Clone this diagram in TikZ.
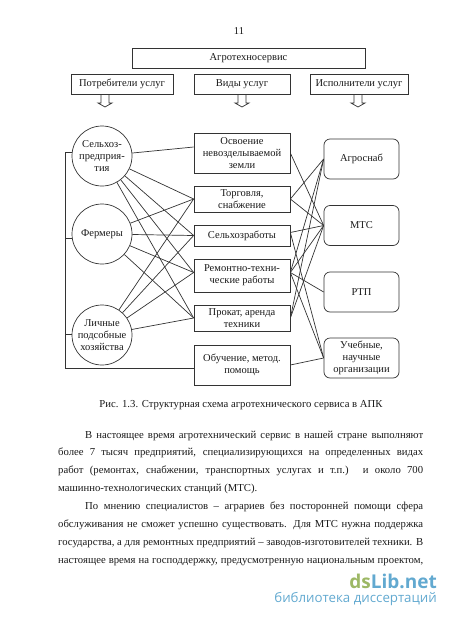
\documentclass[tikz,border=0pt]{standalone}
\usepackage{fontspec}
\setmainfont{Liberation Serif}
\newfontfamily\wmfont{Open Sans}
\definecolor{wmgreen}{HTML}{9DB865}
\definecolor{wmblue}{HTML}{62A9D0}
\tikzset{
    every node/.style={font=\fontsize{10.5}{12}\selectfont,text=black!90},
    lnk/.style={draw=black!80,line width=0.7pt},
    sqbox/.style={lnk,rectangle,inner sep=0pt,align=center},
    rdbox/.style={sqbox,rounded corners=6pt,minimum width=75pt,minimum height=40pt},
    midbox/.style={sqbox,minimum width=96pt},
    crc/.style={lnk,circle,minimum size=60pt,inner sep=0pt,align=center}
}
\begin{document}
\begin{tikzpicture}[x=1pt,y=-1pt]
    \useasboundingbox (0,0) rectangle (450,619);
    \node(page)at(239,31){11};
    \node[sqbox,minimum width=233pt,minimum height=20pt](top)at(248.5,58){Агротехносервис};
    \node[sqbox,minimum width=102pt,minimum height=20pt](potr)at(122,84){Потребители услуг};
    \node[midbox,minimum height=20pt](vidy)at(242,84){Виды услуг};
    \node[sqbox,minimum width=98pt,minimum height=20pt](ispl)at(359,84){Исполнители услуг};
    \foreach \n/\x in {potr/105,vidy/242,ispl/358} \draw[lnk] (\x-4,94)--++(0,9)--++(-3,0)--++(7,4)--++(7,-4)--++(-3,0)--++(0,-9);
    \node[crc](sel)at(102,156){Сельхоз-\\предприя-\\тия};
    \node[crc](fer)at(102,234){Фермеры};
    \node[crc](lich)at(102,335){Личные\\подсобные\\хозяйства};
    \node[midbox,minimum height=40pt](osv)at(242,153){Освоение\\невозделываемой\\земли};
    \node[midbox,minimum height=26pt](torg)at(242,199){Торговля,\\снабжение};
    \node[midbox,minimum height=21pt](selr)at(242,235.5){Сельхозработы};
    \node[midbox,minimum height=33pt](rem)at(242,275.5){Ремонтно-техни-\\ческие работы};
    \node[midbox,minimum height=26pt](prok)at(242,318){Прокат, аренда\\техники};
    \node[midbox,minimum height=40pt](obuch)at(242,365){Обучение, метод.\\помощь};
    \node[rdbox](agro)at(361.5,159){Агроснаб};
    \node[rdbox](mts)at(361.5,225.5){МТС};
    \node[rdbox](rtp)at(361.5,292){РТП};
    \node[rdbox](ucheb)at(361.5,358){Учебные,\\научные\\организации};
    \coordinate(osvin)at([yshift=6pt]osv.west);
    \coordinate(remin)at([yshift=3pt]rem.west);
    \coordinate(remout)at([yshift=3pt]rem.east);
    \coordinate(selout)at([yshift=3pt]selr.east);
    \coordinate(bus)at(65,368);
    \foreach \a/\b in {sel/osvin,sel/torg.west,sel/selr.west,sel/remin,sel/prok.west,
        fer/torg.west,fer/selr.west,fer/remin,fer/prok.west,
        lich/torg.west,lich/selr.west,lich/remin,lich/prok.west,
        osv.east/mts.west,torg.east/agro.west,torg.east/mts.west,selout/mts.west,selout/ucheb.west,
        remout/agro.west,remout/mts.west,remout/rtp.west,remout/ucheb.west,
        prok.east/agro.west,prok.east/mts.west,obuch.east/ucheb.west} \draw[lnk] (\a)--(\b);
    \draw[lnk](sel.174)-|(bus)--([yshift=-3pt]obuch.west);
    \draw[lnk](fer.188)--(fer.188-|bus);
    \draw[lnk](lich.178)--(lich.178-|bus);
    \node[font=\fontsize{10.7}{12}\selectfont](capt)at(241,405){Рис. 1.3. Структурная схема агротехнического сервиса в АПК};
    \node[anchor=north west,inner sep=0pt,text width=365pt,align=justify,font=\fontsize{10.7}{17.9}\selectfont](body)at(58,430.5){%
        \setlength{\parindent}{27pt}\indent В настоящее время агротехнический сервис в нашей стране выполняют\linebreak
        более 7 тысяч предприятий, специализирующихся на определенных видах\linebreak
        работ (ремонтах, снабжении, транспортных услугах и т.п.) и около 700\linebreak
        машинно-технологических станций (МТС).\par
        \indent По мнению специалистов – аграриев без посторонней помощи сфера\linebreak
        обслуживания не сможет успешно существовать. Для МТС нужна поддержка\linebreak
        государства, а для ремонтных предприятий – заводов-изготовителей техники. В\linebreak
        настоящее время на господдержку, предусмотренную национальным проектом,\parfillskip=0pt\par};
    \node[anchor=east,inner sep=0pt,font=\wmfont\bfseries\fontsize{19}{19}\selectfont](wm)at(437,581){\textcolor{wmgreen}{ds}\textcolor{wmblue}{Lib.net}};
    \node[anchor=east,inner sep=0pt,text=wmblue,font=\wmfont\fontsize{13.3}{14}\selectfont](wmsub)at(437,599){библиотека диссертаций};
\end{tikzpicture}
\end{document}
